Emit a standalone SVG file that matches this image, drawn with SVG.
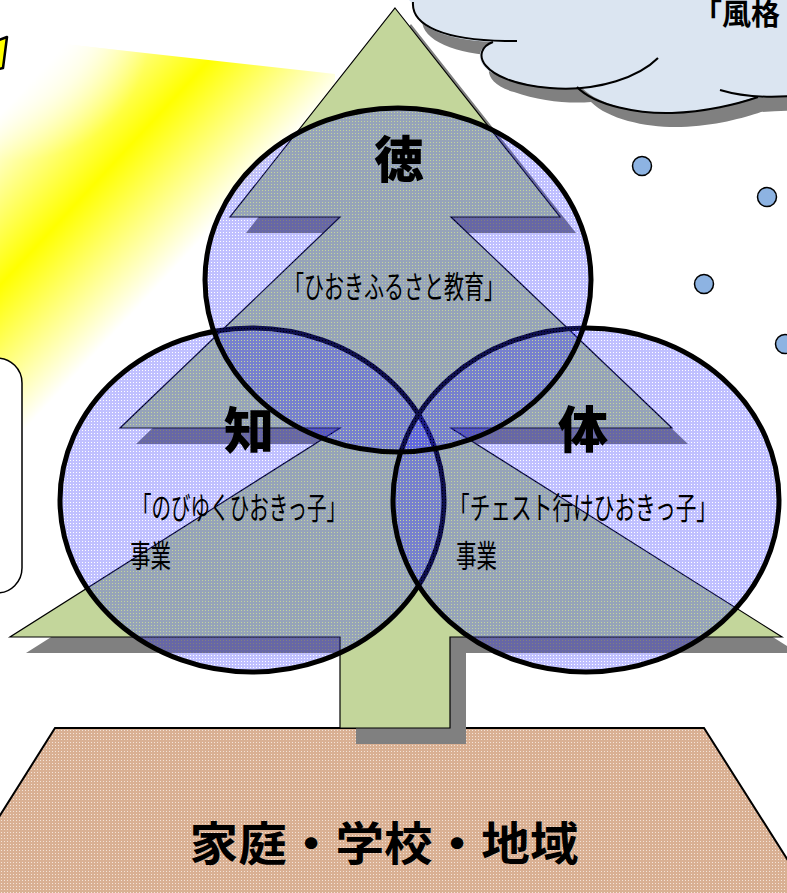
<svg xmlns="http://www.w3.org/2000/svg" width="787" height="893" viewBox="0 0 787 893">
  <defs>
    <!-- light beam from the upper-left sun -->
    <linearGradient id="beamGrad" gradientUnits="userSpaceOnUse" x1="25" y1="88" x2="195" y2="246">
      <stop offset="0" stop-color="#ffffff"/>
      <stop offset="0.5" stop-color="#ffff00"/>
      <stop offset="1" stop-color="#ffffff"/>
    </linearGradient>
    <!-- soft whitening near the sun so the beam starts faint -->
    <radialGradient id="beamFade" gradientUnits="userSpaceOnUse" cx="20" cy="30" r="130">
      <stop offset="0" stop-color="#ffffff" stop-opacity="1"/>
      <stop offset="0.55" stop-color="#ffffff" stop-opacity="0.6"/>
      <stop offset="1" stop-color="#ffffff" stop-opacity="0"/>
    </radialGradient>
    <!-- translucent blue screen used for the three circles -->
    <pattern id="blueScreen" width="3" height="3" patternUnits="userSpaceOnUse">
      <path d="M0 0h3v3h-3z M1 1v1h1v-1z" fill="#3030ff" fill-opacity="0.3" fill-rule="evenodd"/>
    </pattern>
    <!-- tan screen for the ground -->
    <pattern id="groundScreen" width="3" height="3" patternUnits="userSpaceOnUse">
      <rect width="3" height="3" fill="#d9b093"/>
      <rect x="1" y="1" width="1" height="1" fill="#f4e4d8"/>
    </pattern>
    <path id="cloudBody" d="M 405,-4 L 413,4 C 411,26 445,40 492,42 C 474,48 474,70 505,78 C 530,87 560,90 582,88 C 600,106 640,114 672,113 C 705,112 735,104 752,98 C 765,97 778,97 792,96 L 792,-4 Z"/>
    <polygon id="treeShape" points="395,8 560,217 451,217 672,428 451,428 782,637 450,637 450,728 340,728 340,637 10,637 340,428 120,428 340,217 230,217"/>
  </defs>

  <style>
    .ring { fill: url(#blueScreen); stroke: #000; stroke-width: 5; }
    .big { font-family: "Noto Sans CJK JP", "Noto Sans CJK SC", sans-serif; font-weight: 900; font-size: 50px; fill: #000; text-anchor: middle; }
    .small { font-family: "Noto Sans CJK JP", "Noto Sans CJK SC", sans-serif; font-size: 31px; fill: #000; }
    .arc { fill: none; stroke: #000; stroke-width: 2; }
    .snow { fill: #8db3e2; stroke: #000; stroke-width: 1.5; }
  </style>

  <!-- sunlight -->
  <g id="sunlight">
    <polygon points="0,37 335,74 335,430 0,430" fill="url(#beamGrad)"/>
    <polygon points="0,37 335,74 335,430 0,430" fill="url(#beamFade)"/>
    <polygon points="-6,42 7,37 3,68 -6,70" fill="#ffff00" stroke="#000" stroke-width="2.5" stroke-linejoin="round"/>
  </g>

  <!-- side panel at the left edge -->
  <g id="sidePanel">
    <rect x="-40" y="358" width="62" height="235" rx="25" ry="25" fill="#ffffff" stroke="#000" stroke-width="1.5"/>
  </g>

  <!-- cloud -->
  <g id="cloud">
    <use href="#cloudBody" transform="translate(9,14)" fill="#808080"/>
    <use href="#cloudBody" fill="#dbe5f1"/>
    <path class="arc" d="M 413,2 C 411,26 445,40 505,41 L 517,41"/>
    <path class="arc" d="M 493,42 C 470,50 478,82 550,88 C 600,92 640,76 658,58"/>
    <path class="arc" d="M 577,87 C 595,106 640,114 672,113 C 705,112 738,104 758,97"/>
    <path class="arc" d="M 720,90 C 740,96 765,98 792,96"/>
    <text x="693" y="25" font-family="Noto Sans CJK JP, Noto Sans CJK SC, sans-serif" font-weight="700" font-size="29" fill="#000">「風格</text>
  </g>

  <!-- snow -->
  <g id="snow">
    <circle class="snow" cx="642" cy="166" r="9.5"/>
    <circle class="snow" cx="767" cy="197" r="9.5"/>
    <circle class="snow" cx="704" cy="284" r="9.5"/>
    <circle class="snow" cx="785" cy="344" r="9.5"/>
  </g>

  <!-- ground -->
  <g id="ground">
    <polygon points="55,728 704,728 810,895 -50,895" fill="url(#groundScreen)" stroke="#000" stroke-width="2"/>
    <text x="384" y="860" font-family="Noto Sans CJK JP, Noto Sans CJK SC, sans-serif" font-weight="700" font-size="46" fill="#000" text-anchor="middle" textLength="389" lengthAdjust="spacingAndGlyphs">家庭・学校・地域</text>
  </g>

  <!-- tree -->
  <g id="tree">
    <use href="#treeShape" transform="translate(16,16)" fill="#808080"/>
    <use href="#treeShape" fill="#c3d69b" stroke="#000" stroke-width="1.2" stroke-linejoin="miter"/>
  </g>

  <!-- circles -->
  <g id="chi">
    <ellipse class="ring" cx="252" cy="500" rx="192" ry="172"/>
  </g>
  <g id="tai">
    <ellipse class="ring" cx="586" cy="500" rx="193" ry="172"/>
  </g>
  <g id="toku">
    <ellipse class="ring" cx="398" cy="280" rx="193" ry="172"/>
  </g>

  <!-- labels -->
  <g id="labels">
    <text class="big" x="399" y="178">徳</text>
    <text class="big" x="249" y="449">知</text>
    <text class="big" x="583" y="448">体</text>
    <text class="small" x="284" y="298" textLength="220" lengthAdjust="spacingAndGlyphs">「ひおきふるさと教育」</text>
    <text class="small" x="132" y="519" textLength="214" lengthAdjust="spacingAndGlyphs">「のびゆくひおきっ子」</text>
    <text class="small" x="130" y="567" textLength="41" lengthAdjust="spacingAndGlyphs">事業</text>
    <text class="small" x="449" y="519" textLength="268" lengthAdjust="spacingAndGlyphs">「チェスト行けひおきっ子」</text>
    <text class="small" x="456" y="567" textLength="41" lengthAdjust="spacingAndGlyphs">事業</text>
  </g>
</svg>
